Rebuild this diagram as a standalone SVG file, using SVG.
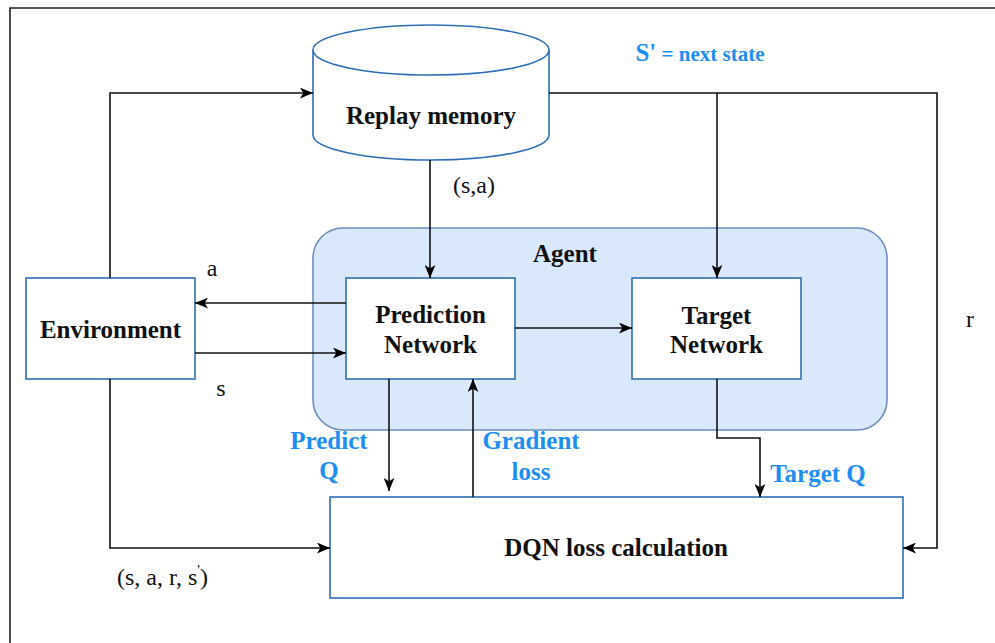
<svg xmlns="http://www.w3.org/2000/svg" width="995" height="643" viewBox="0 0 995 643">
<defs>
<marker id="arr" viewBox="0 0 12 10" refX="12" refY="5" markerWidth="13" markerHeight="11" markerUnits="userSpaceOnUse" orient="auto">
<path d="M0,0 L12,5 L0,10 L3,5 Z" fill="#000"/>
</marker>
<style>
.box{fill:#fff;stroke:#2f6eb5;stroke-width:1.6}
.lbl{font-family:"Liberation Serif","Times New Roman",serif;font-weight:bold;font-size:25px;fill:#111;text-anchor:middle}
.blue{font-family:"Liberation Serif","Times New Roman",serif;font-weight:bold;font-size:25px;fill:#1f8ef1;text-anchor:middle}
.reg{font-family:"Liberation Serif","Times New Roman",serif;font-size:24px;fill:#111}
.edge{fill:none;stroke:#111;stroke-width:1.6}
</style>
</defs>
<rect width="995" height="643" fill="#fff"/>
<path d="M10,643 L10,8 L995,8" fill="none" stroke="#222" stroke-width="1.6"/>

<g id="agent">
<rect x="313" y="228" width="574" height="202" rx="30" ry="30" fill="#dae8fc" stroke="#6c8ebf" stroke-width="1.6"/>
<text class="lbl" x="565" y="262">Agent</text>
</g>

<g id="replay-memory">
<path d="M313,50 L313,135 A118,25 0 0 0 549,135 L549,50" class="box"/>
<ellipse cx="431" cy="50" rx="118" ry="25" class="box"/>
<text class="lbl" x="431" y="124">Replay memory</text>
</g>

<g id="environment">
<rect x="26" y="278" width="169" height="101" class="box"/>
<text class="lbl" x="110.5" y="338">Environment</text>
</g>

<g id="prediction-network">
<rect x="346" y="278" width="169" height="101" class="box"/>
<text class="lbl" x="430.5" y="323">Prediction</text>
<text class="lbl" x="430.5" y="353">Network</text>
</g>

<g id="target-network">
<rect x="632" y="278" width="169" height="101" class="box"/>
<text class="lbl" x="716.5" y="324">Target</text>
<text class="lbl" x="716.5" y="353">Network</text>
</g>

<g id="dqn-loss">
<rect x="330" y="497" width="573" height="101" class="box"/>
<text class="lbl" x="616" y="556">DQN loss calculation</text>
</g>

<g id="connectors">
<path class="edge" d="M110,278 L110,93 L313,93" marker-end="url(#arr)"/>
<path class="edge" d="M549,93 L937,93 L937,548 L903,548" marker-end="url(#arr)"/>
<path class="edge" d="M717,93 L717,278" marker-end="url(#arr)"/>
<path class="edge" d="M430,160 L430,278" marker-end="url(#arr)"/>
<path class="edge" d="M346,303 L195,303" marker-end="url(#arr)"/>
<path class="edge" d="M195,353 L346,353" marker-end="url(#arr)"/>
<path class="edge" d="M515,328 L632,328" marker-end="url(#arr)"/>
<path class="edge" d="M110,379 L110,548 L330,548" marker-end="url(#arr)"/>
<path class="edge" d="M389,379 L389,491" marker-end="url(#arr)"/>
<path class="edge" d="M473,497 L473,379" marker-end="url(#arr)"/>
<path class="edge" d="M717,379 L717,438 L760,438 L760,497" marker-end="url(#arr)"/>
</g>

<g id="labels">
<text x="700" y="61" style="font-family:'Liberation Serif','Times New Roman',serif;font-weight:bold;fill:#1f8ef1;text-anchor:middle"><tspan font-size="25">S'</tspan><tspan font-size="21"> = next state</tspan></text>
<text class="reg" x="474" y="193" text-anchor="middle">(s,a)</text>
<text class="reg" x="212" y="276" text-anchor="middle">a</text>
<text class="reg" x="221" y="396" text-anchor="middle">s</text>
<text class="reg" x="970" y="327" text-anchor="middle">r</text>
<text class="reg" x="117" y="585">(s, a, r, s<tspan dy="-10" font-size="15">'</tspan><tspan dy="10">)</tspan></text>
<text class="blue" x="329" y="449">Predict</text>
<text class="blue" x="329" y="479">Q</text>
<text class="blue" x="531" y="449">Gradient</text>
<text class="blue" x="531" y="480">loss</text>
<text class="blue" x="818" y="482">Target Q</text>
</g>
</svg>
